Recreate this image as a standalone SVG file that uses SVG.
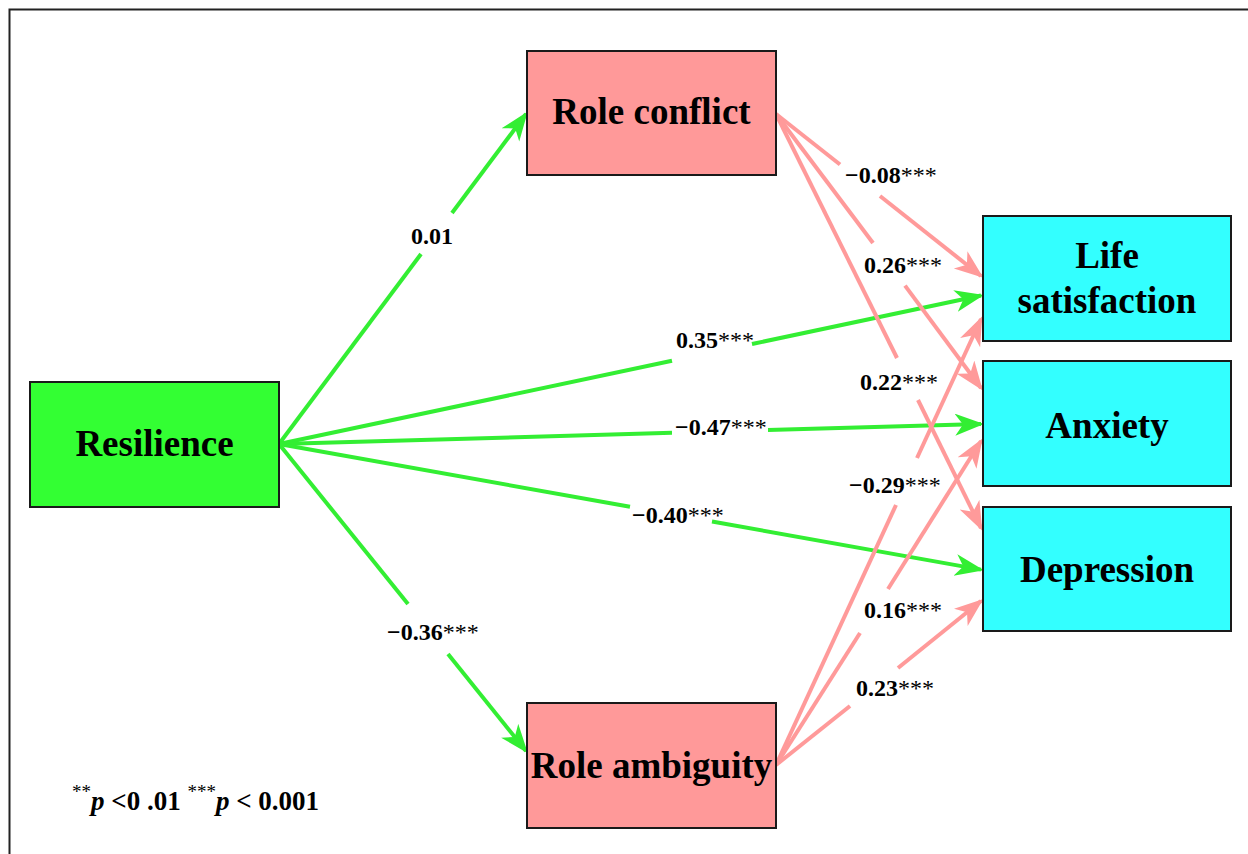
<svg xmlns="http://www.w3.org/2000/svg" width="1248" height="854" viewBox="0 0 1248 854">
<style>
.box{stroke:#1a1a1a;stroke-width:2}
.nt{font-family:"Liberation Serif","Times New Roman",serif;font-weight:bold;font-size:37px;fill:#000;text-anchor:middle}
.lb{font-family:"Liberation Serif","Times New Roman",serif;font-weight:bold;font-size:24px;fill:#000}
.st{font-weight:normal}
.g{stroke:#33ee33;stroke-width:4;fill:none}
.p{stroke:#ff9a9a;stroke-width:4;fill:none}
</style>
<defs>
<marker id="ag" markerUnits="userSpaceOnUse" markerWidth="32" markerHeight="24" refX="26" refY="11" orient="auto"><path d="M0,0 L29,11 L0,22 L8,11 z" fill="#33ee33"/></marker>
<marker id="ap" markerUnits="userSpaceOnUse" markerWidth="32" markerHeight="24" refX="26" refY="11" orient="auto"><path d="M0,0 L29,11 L0,22 L8,11 z" fill="#ff9a9a"/></marker>
</defs>
<rect width="1248" height="854" fill="#fff"/>
<path d="M9.5,854 V9.5 H1248" fill="none" stroke="#222" stroke-width="2"/>
<g id="connectors">
<path class="g" d="M279,444 L421,254"/><path class="g" d="M452,213 L526,114" marker-end="url(#ag)"/>
<path class="g" d="M279,444 L408,604"/><path class="g" d="M448,654 L526,751" marker-end="url(#ag)"/>
<path class="g" d="M279,444 L672,360.8"/><path class="g" d="M752,344 L981,295.5" marker-end="url(#ag)"/>
<path class="g" d="M279,444 L672,432.8"/><path class="g" d="M768,430.1 L981,424" marker-end="url(#ag)"/>
<path class="g" d="M279,444 L630,506.8"/><path class="g" d="M712,521.5 L981,569.6" marker-end="url(#ag)"/>
<path class="p" d="M776,114 L840,164.5"/><path class="p" d="M880,196 L981,276" marker-end="url(#ap)"/>
<path class="p" d="M776,114 L873,243"/><path class="p" d="M905,285.6 L981,388" marker-end="url(#ap)"/>
<path class="p" d="M776,114 L897,358"/><path class="p" d="M918,400 L981,528" marker-end="url(#ap)"/>
<path class="p" d="M776,765 L896,505"/><path class="p" d="M917,458 L981,319" marker-end="url(#ap)"/>
<path class="p" d="M776,765 L860,633"/><path class="p" d="M888,589 L981,441" marker-end="url(#ap)"/>
<path class="p" d="M776,765 L850,706"/><path class="p" d="M898,668 L981,601" marker-end="url(#ap)"/>
</g>
<g id="labels">
<text class="lb" x="411" y="244">0.01</text>
<text class="lb" x="387" y="640">−0.36<tspan class="st">***</tspan></text>
<text class="lb" x="676" y="348">0.35<tspan class="st">***</tspan></text>
<text class="lb" x="675" y="435">−0.47<tspan class="st">***</tspan></text>
<text class="lb" x="632" y="523">−0.40<tspan class="st">***</tspan></text>
<text class="lb" x="845" y="183">−0.08<tspan class="st">***</tspan></text>
<text class="lb" x="864" y="273">0.26<tspan class="st">***</tspan></text>
<text class="lb" x="860" y="390">0.22<tspan class="st">***</tspan></text>
<text class="lb" x="849" y="493">−0.29<tspan class="st">***</tspan></text>
<text class="lb" x="864" y="618">0.16<tspan class="st">***</tspan></text>
<text class="lb" x="856" y="696">0.23<tspan class="st">***</tspan></text>
</g>
<g id="resilience"><rect class="box" x="30" y="382" width="249" height="125" fill="#33ff33"/><text class="nt" x="154.5" y="456">Resilience</text></g>
<g id="role-conflict"><rect class="box" x="527" y="51" width="249" height="124" fill="#ff9999"/><text class="nt" x="651.5" y="124">Role conflict</text></g>
<g id="role-ambiguity"><rect class="box" x="527" y="703" width="249" height="125" fill="#ff9999"/><text class="nt" x="651.5" y="778">Role ambiguity</text></g>
<g id="life-satisfaction"><rect class="box" x="983" y="216" width="248" height="125" fill="#33ffff"/><text class="nt" x="1107" y="268">Life</text><text class="nt" x="1107" y="313">satisfaction</text></g>
<g id="anxiety"><rect class="box" x="983" y="361" width="248" height="125" fill="#33ffff"/><text class="nt" x="1107" y="438">Anxiety</text></g>
<g id="depression"><rect class="box" x="983" y="507" width="248" height="124" fill="#33ffff"/><text class="nt" x="1107" y="582">Depression</text></g>
<g id="legend"><text class="lb" x="72" y="810" style="font-size:27px"><tspan class="st" style="font-size:19px" dy="-12">**</tspan><tspan font-style="italic" dy="12">p</tspan> &lt;0 .01 <tspan class="st" style="font-size:19px" dy="-12">***</tspan><tspan font-style="italic" dy="12">p</tspan> &lt; 0.001</text></g>
</svg>
